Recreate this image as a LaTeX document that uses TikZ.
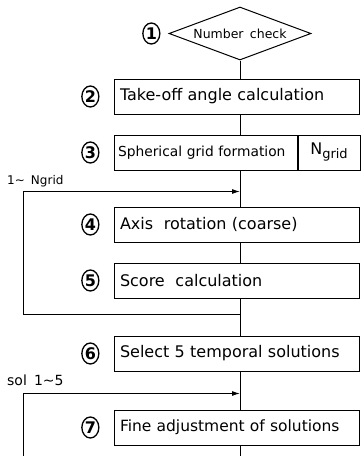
\documentclass[tikz,border=0pt]{standalone}
\usepackage{fontspec}
\setmainfont{DejaVu Sans}[WordSpace=1.6]
\usetikzlibrary{arrows.meta,positioning,shapes.geometric}

\begin{document}
\begin{tikzpicture}[
    block/.style={draw, line width=1pt, minimum height=35pt, inner xsep=6pt, text width=233pt, align=left, font=\fontsize{16pt}{19pt}\selectfont},
    num/.style={draw, ellipse, line width=1.3pt, minimum width=17pt, minimum height=21pt, inner sep=0pt, font=\fontsize{16pt}{16pt}\selectfont\bfseries},
    tag/.style={inner sep=0pt, font=\fontsize{12pt}{14pt}\selectfont},
    wire/.style={line width=1pt},
    line/.style={-{Latex[length=8pt,width=5pt]}, line width=1pt}
]
\useasboundingbox (0,0) rectangle (361pt,-456pt);
\node[draw, diamond, aspect=2.7, line width=1pt, minimum width=142pt, minimum height=53pt, inner sep=0pt, font=\fontsize{12.5pt}{14pt}\selectfont] (chk) at (240pt,-33.5pt) {Number check};
\node[block, below=18pt of chk, xshift=-3.5pt] (take) {Take-off angle calculation};
\node[block, below=20pt of take.south west, anchor=north west, text width=175pt, inner xsep=4pt, font=\fontsize{13.8pt}{16pt}\selectfont] (grid) {Spherical grid formation};
\node[block, right=0pt of grid, text width=50pt, align=center] (ngrid) {N\raisebox{-4pt}{\fontsize{13pt}{13pt}\selectfont grid}};
\node[block, below=36pt of grid.south west, anchor=north west] (axis) {Axis\ \ rotation (coarse)};
\node[block, below=20pt of axis] (score) {Score\ \ calculation};
\node[block, below=37pt of score] (sel) {Select 5 temporal solutions};
\node[block, below=38pt of sel, font=\fontsize{15.5pt}{18pt}\selectfont] (fine) {Fine adjustment of solutions};

\node[num, left=8pt of chk] (n1) {1};
\node[num, left=14pt of take] (n2) {2};
\node[num, left=14pt of grid] (n3) {3};
\node[num, left=14pt of axis] (n4) {4};
\node[num, left=14pt of score] (n5) {5};
\node[num, left=14pt of sel] (n6) {6};
\node[num, left=14pt of fine] (n7) {7};

% loop junctions on the main line
\path (chk.south |- grid.south) ++(0,-21pt) coordinate (gin);
\path (chk.south |- score.south) ++(0,-16pt) coordinate (gout);
\path (chk.south |- sel.south) ++(0,-22pt) coordinate (sin);
\path (chk.south |- fine.south) ++(0,-16pt) coordinate (sout);
\path (gin) ++(-217pt,0) coordinate (gleft);
\path (sin) ++(-217pt,0) coordinate (sleft);

\node[tag, anchor=base west] (glbl) at ([xshift=-16pt,yshift=7pt]gleft) {1\textasciitilde\ Ngrid};
\node[tag, anchor=base west, font=\fontsize{14pt}{16pt}\selectfont] (slbl) at ([xshift=-16pt,yshift=8pt]sleft) {sol 1\textasciitilde 5};

\draw[wire] (chk.south) -- (chk.south |- take.north);
\draw[wire] (chk.south |- take.south) -- (chk.south |- grid.north);
\draw[wire] (chk.south |- grid.south) -- (chk.south |- axis.north);
\draw[wire] (chk.south |- axis.south) -- (chk.south |- score.north);
\draw[wire] (chk.south |- score.south) -- (chk.south |- sel.north);
\draw[wire] (chk.south |- sel.south) -- (chk.south |- fine.north);
\draw[wire] (chk.south |- fine.south) -- (sout);

\draw[line] (gout) -| (gleft) -- (gin);
\draw[line] (sout) -| (sleft) -- (sin);
\end{tikzpicture}
\end{document}
